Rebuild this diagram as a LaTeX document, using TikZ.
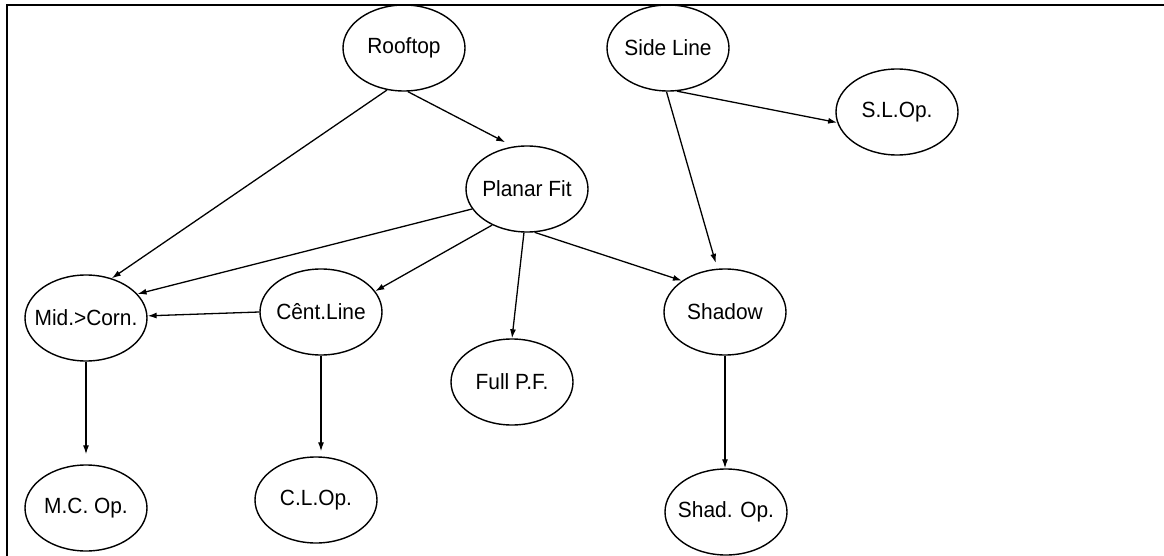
\documentclass[tikz,border=0pt]{standalone}
\usepackage{fontspec}
\setmainfont[FakeStretch=0.95]{Liberation Sans}
\usetikzlibrary{shapes.geometric,arrows.meta}

\newcommand{\nodetext}[1]{\makebox[0pt][c]{#1}}

\tikzset{
  state/.style={draw=black, line width=1.4pt, ellipse, inner sep=0pt,
    minimum width=122pt, minimum height=86pt,
    font=\fontsize{22}{26}\selectfont},
  link/.style={draw=black, line width=1.3pt,
    -{Latex[length=9pt,width=6pt]}},
  frameline/.style={draw=black, line width=1.8pt}
}

\begin{document}
\begin{tikzpicture}[x=1pt,y=-1pt]
  \useasboundingbox[fill=white] (0,0) rectangle (1164,556);

  % frame along the top and left edges
  \coordinate (ftl) at (7,5);
  \coordinate (ftr) at (1164,5);
  \coordinate (fbl) at (7,556);
  \draw[frameline] (ftr) -- (ftl) -- (fbl);

  % states
  \node[state] (roof)   at (404,48)  {\nodetext{Rooftop}};
  \node[state] (side)   at (668,48)  {\nodetext{Side Line}};
  \node[state] (slop)   at (897,112) {\nodetext{S.L.Op.}};
  \node[state] (planar) at (527,189) {\nodetext{Planar Fit}};
  \node[state] (mid)    at (86,318)  {\nodetext{Mid.>Corn.}};
  \node[state] (cent)   at (321,312) {\nodetext{Cênt.Line}};
  \node[state] (shadow) at (725,312) {\nodetext{Shadow}};
  \node[state] (full)   at (512,382) {\nodetext{Full P.F.}};
  \node[state] (mcop)   at (86,508)  {\nodetext{M.C. Op.}};
  \node[state] (clop)   at (316,500) {\nodetext{C.L.Op.}};
  \node[state] (shop)   at (726,512) {\nodetext{Shad. Op.}};

  % entry points of the straight downward links
  \coordinate (clin) at (cent.south |- clop.north);
  \coordinate (shin) at (shadow.south |- shop.north);

  % transitions
  \draw[link] (roof.248) -- (mid.57);
  \draw[link, shorten >=9pt] (roof.275) -- (planar.108);
  \draw[link] (side.282) -- (slop.190);
  \draw[link, shorten >=6pt] (side.268) -- (shadow.100);
  \draw[link] (planar.200) -- (mid.25);
  \draw[link] (planar.226) -- (cent.21);
  \draw[link] (planar.266) -- (full.north);
  \draw[link] (planar.280) -- (shadow.144);
  \draw[link] (cent.180) -- (mid.2);
  \draw[link, shorten >=10pt] (mid.south) -- (mcop.north);
  \draw[link, shorten >=5pt] (cent.south) -- (clin);
  \draw[link] (shadow.south) -- (shin);
\end{tikzpicture}
\end{document}
